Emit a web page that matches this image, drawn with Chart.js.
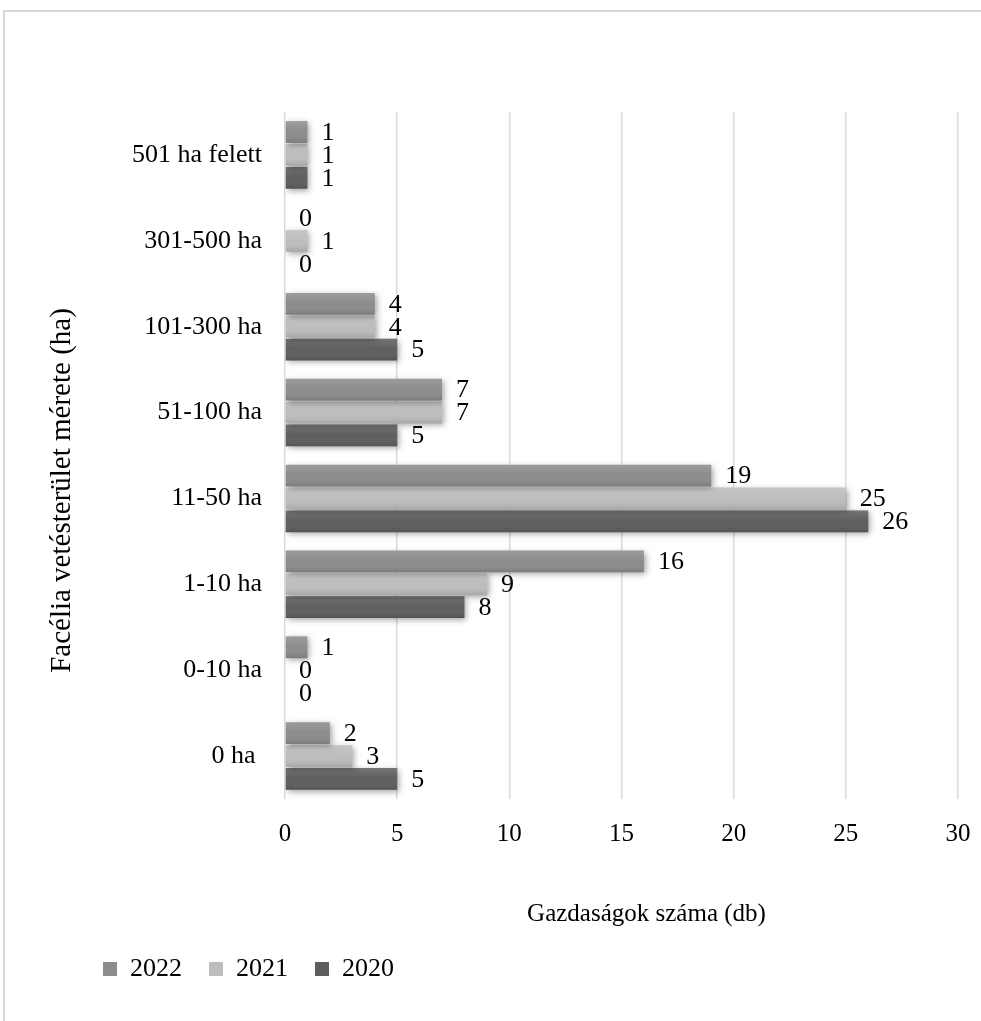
<!DOCTYPE html>
<html>
<head>
<meta charset="utf-8">
<script src="https://cdn.jsdelivr.net/npm/chart.js@4.4.1/dist/chart.umd.min.js"></script>
<style>
  html, body { margin: 0; padding: 0; background: #fff; }
  #frame { position: absolute; left: 3px; top: 10px; width: 978px; height: 1011px; border-top: 2px solid #d9d9d9; border-left: 2px solid #d9d9d9; box-sizing: border-box; }
  #wrap { position: absolute; left: 0; top: 0; width: 981px; height: 1021px; }
</style>
</head>
<body>
<div id="frame"></div>
<div id="wrap"><canvas id="bar-chart"></canvas></div>
<script>
var sizeLabels = ['501 ha felett', '301-500 ha', '101-300 ha', '51-100 ha', '11-50 ha', '1-10 ha', '0-10 ha', '0 ha '];
var years = ['2022', '2021', '2020'];
var count2022 = [1, 0, 4, 7, 19, 16, 1, 2];
var count2021 = [1, 1, 4, 7, 25, 9, 0, 3];
var count2020 = [1, 0, 5, 5, 26, 8, 0, 5];
var xTicks = [0, 5, 10, 15, 20, 25, 30];
var xTitle = 'Gazdaságok száma (db)';
var yTitle = 'Facélia vetésterület mérete (ha)';

var serif = "'Liberation Serif', 'Times New Roman', serif";
var greys = ['#8c8c8c', '#bdbdbd', '#5e5e5e'];

// soft drop shadow under the bars plus a light top-to-bottom sheen
var barShading = {
	id: 'barShading',
	beforeDatasetDraw: function(chart) {
		var ctx = chart.ctx;
		ctx.save();
		ctx.shadowColor = 'rgba(0, 0, 0, 0.35)';
		ctx.shadowBlur = 6;
		ctx.shadowOffsetX = 2;
		ctx.shadowOffsetY = 2;
	},
	afterDatasetDraw: function(chart, args) {
		var ctx = chart.ctx;
		ctx.restore();
		args.meta.data.forEach(function(bar) {
			var p = bar.getProps(['x', 'y', 'base', 'height'], true);
			if (p.x - p.base < 1) return;
			var top = p.y - p.height / 2;
			var g = ctx.createLinearGradient(0, top, 0, top + p.height);
			g.addColorStop(0, 'rgba(255,255,255,0.14)');
			g.addColorStop(0.5, 'rgba(255,255,255,0)');
			g.addColorStop(1, 'rgba(0,0,0,0.12)');
			ctx.fillStyle = g;
			ctx.fillRect(p.base, top, p.x - p.base, p.height);
		});
	}
};

// value printed just right of each bar
var valueLabels = {
	id: 'valueLabels',
	afterDatasetsDraw: function(chart) {
		var ctx = chart.ctx;
		ctx.save();
		ctx.font = '26px ' + serif;
		ctx.fillStyle = '#000';
		ctx.textBaseline = 'middle';
		chart.data.datasets.forEach(function(ds, i) {
			chart.getDatasetMeta(i).data.forEach(function(bar, j) {
				ctx.fillText(String(ds.data[j]), bar.x + 14, bar.y + 1);
			});
		});
		ctx.restore();
	}
};

// axis titles, placed a little off the plot centre
var axisTitles = {
	id: 'axisTitles',
	afterDraw: function(chart) {
		var a = chart.chartArea;
		var ctx = chart.ctx;
		ctx.save();
		ctx.fillStyle = '#000';
		ctx.textAlign = 'center';
		ctx.textBaseline = 'middle';
		ctx.font = '25px ' + serif;
		ctx.fillText(xTitle, (a.left + a.right) / 2 + 25, a.bottom + 115);
		ctx.translate(62, (a.top + a.bottom) / 2 + 35);
		ctx.rotate(-Math.PI / 2);
		ctx.font = '29px ' + serif;
		ctx.fillText(yTitle, 0, 0);
		ctx.restore();
	}
};

// push the legend in from the left edge
var legendOffset = {
	id: 'legendOffset',
	afterLayout: function(chart) {
		chart.legend.left += 76;
		chart.legend.right += 76;
	}
};

function createBarChart() {
	var ctx = document.getElementById('bar-chart').getContext('2d');
	var series = [count2022, count2021, count2020];

	var chart = new Chart(ctx, {
		type: 'bar',
		data: {
			labels: sizeLabels,
			datasets: years.map(function(year, i) {
				return {
					label: year,
					data: series[i],
					backgroundColor: greys[i],
					borderWidth: 0,
					categoryPercentage: 0.8,
					barPercentage: 0.95
				};
			})
		},
		options: {
			indexAxis: 'y',
			responsive: true,
			maintainAspectRatio: false,
			animation: false,
			layout: { padding: { top: 112, right: 23, bottom: 29, left: 0 } },
			plugins: {
				tooltip: { enabled: false },
				legend: {
					position: 'bottom',
					align: 'start',
					labels: {
						boxWidth: 14,
						boxHeight: 14,
						padding: 27,
						color: '#000',
						font: { family: serif, size: 26 }
					}
				}
			},
			scales: {
				x: {
					min: 0,
					max: 30,
					afterBuildTicks: function(scale) {
						scale.ticks = xTicks.map(function(v) { return { value: v }; });
					},
					ticks: { padding: 20, color: '#000', font: { family: serif, size: 25 } },
					grid: { color: '#d9d9d9', lineWidth: 1.5, drawTicks: false },
					border: { display: false },
					afterFit: function(scale) {
						scale.height = 130;
						scale.paddingLeft = 0;
						scale.paddingRight = 0;
					}
				},
				y: {
					ticks: { padding: 23, color: '#000', font: { family: serif, size: 26 } },
					grid: { display: false, drawTicks: false },
					border: { display: false },
					afterFit: function(scale) { scale.width = 285; }
				}
			}
		},
		plugins: [barShading, valueLabels, axisTitles, legendOffset]
	});
	return chart;
}

createBarChart();
</script>
</body>
</html>
